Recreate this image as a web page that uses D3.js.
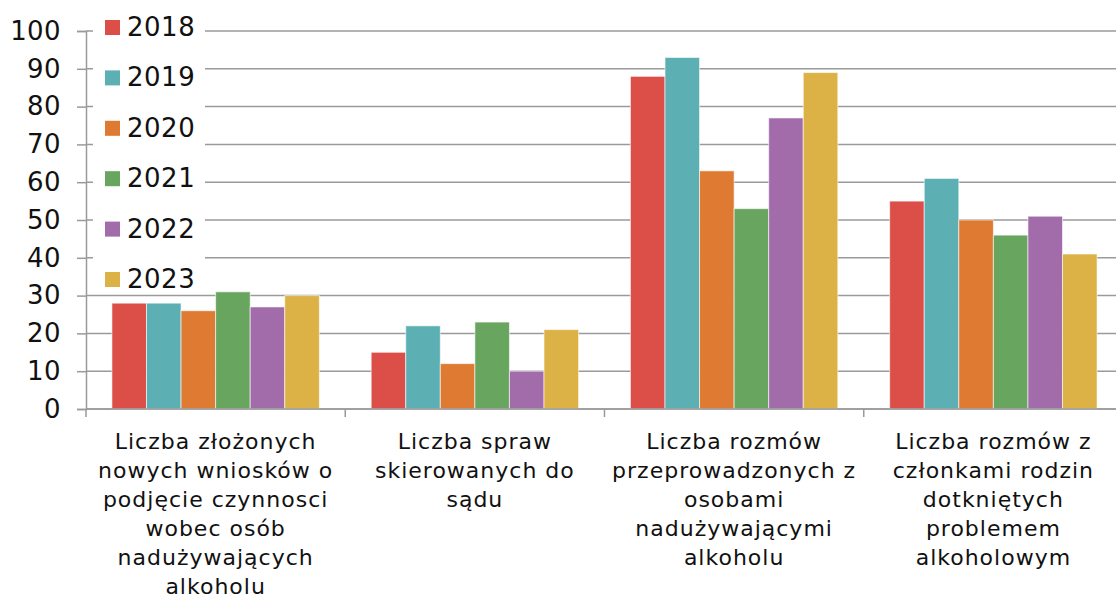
<!DOCTYPE html>
<html>
<head>
<meta charset="utf-8">
<script src="https://cdn.jsdelivr.net/npm/d3@7.9.0/dist/d3.min.js"></script>
<style>
  body { margin: 0; background: #fff; }
  svg { display: block; font-family: "DejaVu Sans", Verdana, sans-serif; }
</style>
</head>
<body>
<svg id="chart" width="1116" height="594"></svg>
<script>
const years = ['2018', '2019', '2020', '2021', '2022', '2023'];
const colors = ['#db4f48', '#5cb0b3', '#de7a31', '#68a55f', '#a26cab', '#dcb146'];

// category labels, already split into lines like the original
const categories = [
  ['Liczba złożonych', 'nowych wniosków o', 'podjęcie czynnosci', 'wobec osób', 'nadużywających', 'alkoholu'],
  ['Liczba spraw', 'skierowanych do', 'sądu'],
  ['Liczba rozmów', 'przeprowadzonych z', 'osobami', 'nadużywającymi', 'alkoholu'],
  ['Liczba rozmów z', 'członkami rodzin', 'dotkniętych', 'problemem', 'alkoholowym']
];

// values per year, one entry per category
const v2018 = [28, 15, 88, 55];
const v2019 = [28, 22, 93, 61];
const v2020 = [26, 12, 63, 50];
const v2021 = [31, 23, 53, 46];
const v2022 = [27, 10, 77, 51];
const v2023 = [30, 21, 89, 41];
const series = [v2018, v2019, v2020, v2021, v2022, v2023];

const yTicks = d3.range(0, 101, 10);

const svg = d3.select('#chart');
const mLeft = 86, mRight = 1123, mTop = 31, mBottom = 409;

const catIdx = categories.map((_, i) => i);
const x0 = d3.scaleBand().domain(catIdx).range([mLeft, mRight]).padding(0);
const bw = x0.bandwidth();
const x1 = d3.scaleBand().domain(years).range([bw * 0.1, bw * 0.9]).padding(0);
const y = d3.scaleLinear().domain([0, 100]).range([mBottom, mTop]);

// grid lines
svg.append('g')
  .selectAll('line')
  .data(yTicks)
  .join('line')
  .attr('x1', mLeft).attr('x2', mRight)
  .attr('y1', d => y(d)).attr('y2', d => y(d))
  .attr('stroke', '#9a9a9a')
  .attr('stroke-width', 1.5);

// y axis
const yAxis = svg.append('g')
  .attr('transform', `translate(${mLeft},0)`)
  .call(d3.axisLeft(y).tickValues(yTicks).tickSize(9).tickPadding(16));
yAxis.select('.domain').attr('stroke', '#9a9a9a').attr('stroke-width', 1.5);
yAxis.selectAll('.tick line').attr('stroke', '#9a9a9a').attr('stroke-width', 1.5);
yAxis.selectAll('.tick text')
  .attr('font-size', 26)
  .attr('letter-spacing', 0.4)
  .attr('font-family', '"DejaVu Sans", Verdana, sans-serif')
  .attr('fill', '#111');

// bars
const groups = svg.append('g')
  .selectAll('g')
  .data(catIdx)
  .join('g')
  .attr('transform', d => `translate(${x0(d)},0)`);

groups.selectAll('rect')
  .data(c => years.map((yr, k) => ({ yr, k, v: series[k][c] })))
  .join('rect')
  .attr('x', d => x1(d.yr))
  .attr('width', x1.bandwidth())
  .attr('y', d => y(d.v))
  .attr('height', d => y(0) - y(d.v))
  .attr('fill', d => colors[d.k])
  .attr('stroke', 'rgba(255,255,255,0.6)')
  .attr('stroke-width', 1);

// x axis
const xAxis = svg.append('g');
xAxis.append('line')
  .attr('x1', mLeft).attr('x2', mRight)
  .attr('y1', mBottom).attr('y2', mBottom)
  .attr('stroke', '#9a9a9a').attr('stroke-width', 1.5);
xAxis.selectAll('.xtick')
  .data(d3.range(categories.length + 1))
  .join('line')
  .attr('class', 'xtick')
  .attr('x1', d => mLeft + d * bw).attr('x2', d => mLeft + d * bw)
  .attr('y1', mBottom).attr('y2', mBottom + 8)
  .attr('stroke', '#9a9a9a').attr('stroke-width', 1.5);

xAxis.selectAll('text')
  .data(catIdx)
  .join('text')
  .attr('text-anchor', 'middle')
  .attr('font-size', 22)
  .attr('letter-spacing', 1)
  .attr('fill', '#111')
  .each(function (c) {
    d3.select(this).selectAll('tspan')
      .data(categories[c])
      .join('tspan')
      .attr('x', x0(c) + bw / 2)
      .attr('y', (d, i) => 449 + i * 29)
      .text(d => d);
  });

// legend (white box covering the grid)
const legend = svg.append('g');
legend.append('rect')
  .attr('x', 93).attr('y', 8)
  .attr('width', 112).attr('height', 285)
  .attr('fill', '#fff');

const item = legend.selectAll('g.item')
  .data(years)
  .join('g')
  .attr('class', 'item')
  .attr('transform', (d, i) => `translate(105,${36 + i * 50.4})`);

item.append('rect')
  .attr('x', 0).attr('y', -16)
  .attr('width', 15).attr('height', 15)
  .attr('fill', (d, i) => colors[i]);

item.append('text')
  .attr('x', 22).attr('y', 0)
  .attr('font-size', 26)
  .attr('letter-spacing', 0.5)
  .attr('fill', '#111')
  .text(d => d);
</script>
</body>
</html>
